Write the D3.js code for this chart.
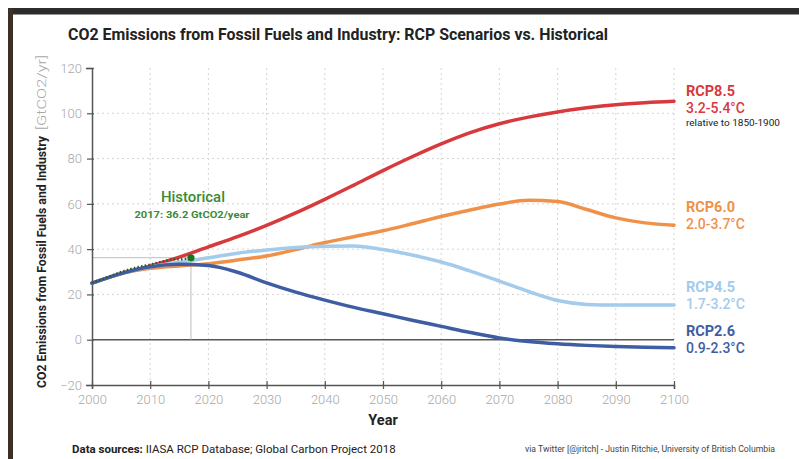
<!DOCTYPE html>
<html>
<head>
<meta charset="utf-8">
<script src="https://cdn.jsdelivr.net/npm/d3@7"></script>
<style>
  html, body { margin: 0; padding: 0; background: #fff; }
  svg { display: block; font-family: Roboto, "Noto Sans", sans-serif; }
</style>
</head>
<body>
<svg id="chart" width="799" height="459"></svg>
<script>
// ---- data ----
const years = [2000,2005,2010,2015,2020,2025,2030,2035,2040,2045,2050,2055,2060,2065,2070,2075,2080,2085,2090,2095,2100];
const rcp85 = [25,29.2,32.6,36.5,41,45.5,50.5,56,62,68.3,74.7,80.8,86.5,91.5,95.4,98.3,100.6,102.4,103.8,104.7,105.3];
const rcp60 = [25,29.2,31.5,32.6,33.6,35.2,37,39.8,42.9,45.5,48.1,51.2,54.4,57.3,59.9,61.6,61.0,57.5,53.8,51.6,50.6];
const rcp45 = [25,29.2,32.2,34.2,36.2,38.2,39.6,40.7,41.3,41.4,39.8,37.4,34.3,30.3,25.9,21.3,17.3,15.6,15.3,15.3,15.3];
const rcp26 = [25,29.2,32.2,33.3,32.8,29.8,25.1,21,17.5,14.3,11.5,8.6,5.9,3.2,0.8,-0.8,-1.8,-2.5,-3.0,-3.3,-3.5];
const histYears = [2000,2002,2004,2006,2008,2010,2011,2012,2013,2014,2015,2016,2017];
const histValues = [25.2,26.9,29.0,30.8,32.2,33.2,33.9,34.5,35.1,35.5,35.5,35.7,36.2];
const xTicks = [2000,2010,2020,2030,2040,2050,2060,2070,2080,2090,2100];
const yTicks = [-20,0,20,40,60,80,100,120];
const seriesNames = ["RCP8.5","RCP6.0","RCP4.5","RCP2.6"];
const seriesRanges = ["3.2-5.4°C","2.0-3.7°C","1.7-3.2°C","0.9-2.3°C"];
const seriesColors = ["#d8393c","#f0914a","#a3cbec","#3f5da3"];
const seriesValues = [rcp85, rcp60, rcp45, rcp26];

// ---- layout ----
const svg = d3.select("#chart");
const x = d3.scaleLinear().domain([2000,2100]).range([92,674]);
const y = d3.scaleLinear().domain([-20,120]).range([385,68]);

// screenshot frame
svg.append("rect").attr("x",8).attr("y",8).attr("width",791).attr("height",6.5).attr("fill","#2c2c2c");
svg.append("rect").attr("x",8).attr("y",8).attr("width",5).attr("height",451).attr("fill","#3b3027");

// title
svg.append("text").attr("x",68).attr("y",40)
  .attr("font-size",16.5).attr("font-weight",700).attr("fill","#222")
  .attr("textLength",540).attr("lengthAdjust","spacingAndGlyphs")
  .text("CO2 Emissions from Fossil Fuels and Industry: RCP Scenarios vs. Historical");

// grid
const grid = svg.append("g");
grid.selectAll("line.v").data(xTicks.slice(1)).join("line")
  .attr("x1",d=>x(d)).attr("x2",d=>x(d)).attr("y1",y(120)).attr("y2",y(-20))
  .attr("stroke","#d4d4d4").attr("stroke-width",1).attr("stroke-dasharray","2,3");
grid.selectAll("line.h").data([20,40,60,80,100]).join("line")
  .attr("x1",x(2000)).attr("x2",x(2100)).attr("y1",d=>y(d)).attr("y2",d=>y(d))
  .attr("stroke","#d4d4d4").attr("stroke-width",1).attr("stroke-dasharray","2,3");

// zero line
svg.append("line").attr("x1",x(2000)).attr("x2",x(2100)).attr("y1",y(0)).attr("y2",y(0))
  .attr("stroke","#555").attr("stroke-width",1.5);

// 2017 reference lines
svg.append("line").attr("x1",x(2000)).attr("x2",x(2017)).attr("y1",y(36.2)).attr("y2",y(36.2))
  .attr("stroke","#bdbdbd").attr("stroke-width",1);
svg.append("line").attr("x1",x(2017)).attr("x2",x(2017)).attr("y1",y(36.2)).attr("y2",y(0))
  .attr("stroke","#bdbdbd").attr("stroke-width",1);

// axes
const yAxis = d3.axisLeft(y).tickValues(yTicks).tickSize(6).tickPadding(4);
const gy = svg.append("g").attr("transform",`translate(${x(2000)},0)`).call(yAxis);
const xAxis = d3.axisBottom(x).tickValues(xTicks).tickFormat(d3.format("d")).tickSize(4).tickPadding(6);
const gx = svg.append("g").attr("transform",`translate(0,${y(-20)})`).call(xAxis);
[gx, gy].forEach(g => {
  g.select(".domain").attr("stroke","#555").attr("stroke-width",1.5);
  g.selectAll(".tick line").attr("stroke","#555").attr("stroke-width",1.2);
  g.selectAll(".tick text").attr("fill","#a8a8a8").attr("font-size",13)
    .attr("font-weight",300).attr("font-family","Roboto, sans-serif");
});
gx.selectAll(".tick line").attr("y1",-4);
gy.selectAll(".tick line").attr("x2",-5).attr("x1",2);

// series lines
const line = d3.line().x((d,i)=>x(years[i])).y(d=>y(d)).curve(d3.curveMonotoneX);
const order = [1,0,2,3];
order.forEach(k => {
  svg.append("path").datum(seriesValues[k]).attr("d",line)
    .attr("fill","none").attr("stroke",seriesColors[k]).attr("stroke-width",3.5)
    .attr("stroke-linecap","round");
});

// historical dotted
const hline = d3.line().x((d,i)=>x(histYears[i])).y(d=>y(d)).curve(d3.curveMonotoneX);
svg.append("path").datum(histValues).attr("d",hline)
  .attr("fill","none").attr("stroke","#2a5a22").attr("stroke-width",2.2)
  .attr("stroke-dasharray","1.5,2.2");
svg.append("circle").attr("cx",x(2017)).attr("cy",y(36.2)).attr("r",3.6).attr("fill","#17751f");

// historical label
svg.append("text").attr("x",x(2017)+2).attr("y",202).attr("text-anchor","middle")
  .attr("font-size",15).attr("font-weight",500).attr("fill","#3b8a34")
  .attr("textLength",64).attr("lengthAdjust","spacingAndGlyphs").text("Historical");
svg.append("text").attr("x",x(2017)+1).attr("y",218).attr("text-anchor","middle")
  .attr("font-size",9.5).attr("font-weight",700).attr("fill","#3b8a34")
  .attr("textLength",115).attr("lengthAdjust","spacingAndGlyphs")
  .text("2017: 36.2 GtCO2/year");

// right labels
const labelY = [96, 212, 292, 336];
seriesNames.forEach((n,i) => {
  svg.append("text").attr("x",686).attr("y",labelY[i]).attr("font-size",14.5)
    .attr("font-weight",700).attr("fill",seriesColors[i]).text(n);
  svg.append("text").attr("x",686).attr("y",labelY[i]+16.5).attr("font-size",14)
    .attr("font-weight",500).attr("fill",seriesColors[i]).text(seriesRanges[i]);
});
svg.append("text").attr("x",686).attr("y",126).attr("font-size",8.5)
  .attr("fill","#222").attr("textLength",94).attr("lengthAdjust","spacingAndGlyphs")
  .text("relative to 1850-1900");

// y axis title
svg.append("text").attr("transform","translate(46,388) rotate(-90)")
  .attr("font-size",13.5).attr("font-weight",700).attr("fill","#222")
  .attr("textLength",252).attr("lengthAdjust","spacingAndGlyphs")
  .text("CO2 Emissions from Fossil Fuels and Industry");
svg.append("text").attr("transform","translate(46,130) rotate(-90)")
  .attr("font-size",12.5).attr("font-weight",300).attr("fill","#a8a8a8")
  .attr("textLength",75).attr("lengthAdjust","spacingAndGlyphs")
  .text("[GtCO2/yr]");

// x axis title
svg.append("text").attr("x",383).attr("y",425).attr("text-anchor","middle")
  .attr("font-size",14.5).attr("font-weight",700).attr("fill","#222").text("Year");

// footer
const f = svg.append("text").attr("x",72).attr("y",453).attr("font-size",11.5).attr("fill","#222");
f.append("tspan").attr("font-weight",700).text("Data sources:");
f.append("tspan").attr("font-weight",400).text(" IIASA RCP Database; Global Carbon Project 2018");
svg.append("text").attr("x",525).attr("y",452).attr("font-size",8.5).attr("fill","#444")
  .attr("textLength",250).attr("lengthAdjust","spacingAndGlyphs")
  .text("via Twitter [@jritch] - Justin Ritchie, University of British Columbia");
</script>
</body>
</html>
